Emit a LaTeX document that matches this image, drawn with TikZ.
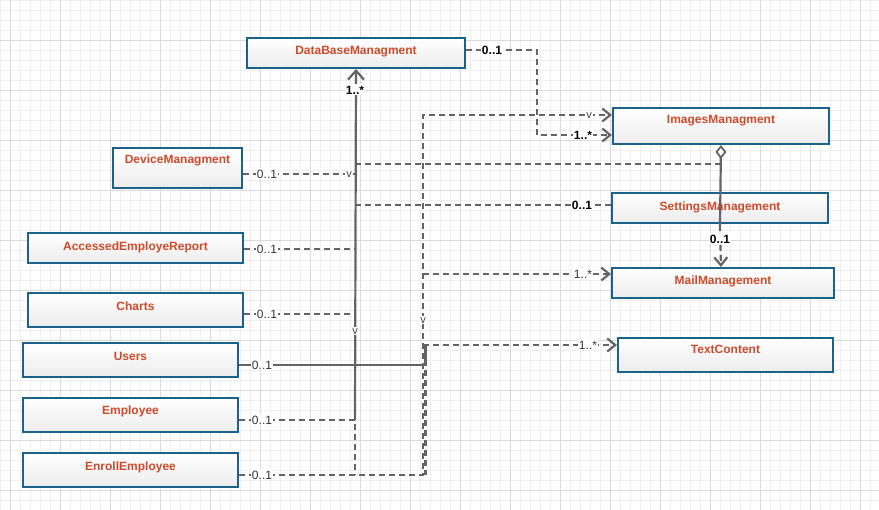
\documentclass[tikz,border=0pt]{standalone}
\usepackage{fontspec}
\setmainfont{Liberation Sans}
\usetikzlibrary{arrows.meta}
\definecolor{titlec}{RGB}{207,74,42}
\definecolor{boxc}{RGB}{27,98,138}
\definecolor{linec}{RGB}{100,100,100}
\definecolor{gridmin}{RGB}{239,239,239}
\definecolor{gridmaj}{RGB}{218,218,218}
\definecolor{boxfill}{RGB}{236,236,236}
\tikzset{
  box/.style={rectangle,draw=boxc,line width=2pt,top color=white,bottom color=boxfill,anchor=north west,inner sep=0pt},
  title/.style={font=\bfseries\fontsize{12}{14}\selectfont,text=titlec,anchor=base,inner sep=0pt},
  conn/.style={draw=linec,line width=2.2pt},
  dl/.style={conn,dash pattern=on 6pt off 4pt},
  arrowend/.style={-{Straight Barb[length=8pt,width=13pt]}},
  lbl/.style={fill=white,inner sep=1.2pt,text height=8.6pt,text depth=0pt,font=\fontsize{12}{14}\selectfont,text=black!80},
  blbl/.style={lbl,font=\bfseries\fontsize{12}{14}\selectfont,text=black},
  vlbl/.style={fill=white,inner sep=1pt,text height=6.3pt,text depth=0pt,font=\fontsize{11}{13}\selectfont,text=black!75},
}
\begin{document}
\begin{tikzpicture}[x=1pt,y=-1pt]
\useasboundingbox (0,0) rectangle (879,510);
\fill[white] (0,0) rectangle (879,510);
% grid
\foreach \i in {0,10,...,870} \draw[gridmin,line width=1pt] (\i+0.5,0) -- (\i+0.5,510);
\foreach \j in {0,10,...,500} \draw[gridmin,line width=1pt] (0,\j+0.5) -- (879,\j+0.5);
\foreach \i in {10,60,...,860} \draw[gridmaj,line width=1pt] (\i+0.5,0) -- (\i+0.5,510);
\foreach \j in {40,90,...,490} \draw[gridmaj,line width=1pt] (0,\j+0.5) -- (879,\j+0.5);

% boxes
\node[box,minimum width=218pt,minimum height=30pt] (db) at (246,37) {};
\node[title] (dbt) at ([yshift=-17.5pt]db.north) {DataBaseManagment};
\node[box,minimum width=216pt,minimum height=36pt] (img) at (612,107) {};
\node[title] (imgt) at ([yshift=-16.5pt]img.north) {ImagesManagment};
\node[box,minimum width=216pt,minimum height=30pt] (set) at (611,192) {};
\node[title] (sett) at ([yshift=-18.5pt]set.north) {SettingsManagement};
\node[box,minimum width=222pt,minimum height=30pt] (mail) at (611,267) {};
\node[title] (mailt) at ([yshift=-17.5pt]mail.north) {MailManagement};
\node[box,minimum width=215pt,minimum height=34pt] (txt) at (617,337) {};
\node[title] (txtt) at ([yshift=-16.5pt]txt.north) {TextContent};
\node[box,minimum width=129pt,minimum height=40pt] (dev) at (112,147) {};
\node[title] (devt) at ([yshift=-16.5pt]dev.north) {DeviceManagment};
\node[box,minimum width=215pt,minimum height=30pt] (acc) at (27,232) {};
\node[title] (acct) at ([yshift=-18.5pt]acc.north) {AccessedEmployeReport};
\node[box,minimum width=215pt,minimum height=34pt] (cha) at (27,292) {};
\node[title] (chat) at ([yshift=-18.5pt]cha.north) {Charts};
\node[box,minimum width=215pt,minimum height=34pt] (usr) at (22,342) {};
\node[title] (usrt) at ([yshift=-18.5pt]usr.north) {Users};
\node[box,minimum width=215pt,minimum height=34pt] (emp) at (22,397) {};
\node[title] (empt) at ([yshift=-17.5pt]emp.north) {Employee};
\node[box,minimum width=215pt,minimum height=34pt] (enr) at (22,452) {};
\node[title] (enrt) at ([yshift=-18.5pt]enr.north) {EnrollEmployee};

% junction coordinates
\coordinate (a1) at (537,50);
\coordinate (a2) at (537,135);
\coordinate (b1) at (423,115);
\coordinate (b2) at (423,475);
\coordinate (b3) at (423,274);
\coordinate (b4) at (423,345);
\coordinate (b5) at (425.5,365);
\coordinate (b6) at (425.5,345);
\coordinate (b7) at (425.5,475);
\coordinate (c1) at (355,420);
\coordinate (c2) at (355,475);
\coordinate (c3) at (355,174);
\coordinate (c4) at (355,164);
\coordinate (c5) at (720,164);
\coordinate (c6) at (355,205);
\coordinate (c7) at (355,249);
\coordinate (c8) at (355,314);
\coordinate (d1) at (720,225);

% connectors
\draw[dl,arrowend] (db.east |- a1) -- (a1) -- (a2) -- (img.west |- a2);
\draw[dl,arrowend] (enr.east |- b2) -- (b2) -- (b1) -- (img.west |- b1);
\draw[dl,arrowend] (b3) -- (mail.west |- b3);
\draw[dl,arrowend] (b4) -- (txt.west |- b4);
\draw[conn] (usr.east |- b5) -- (b5) -- (b6);
\draw[dl,dash phase=5pt] (b5) -- (b7);
\draw[conn,{Straight Barb[length=9pt,width=16pt]}-] (db.south) -- (c1);
\draw[dl] (emp.east |- c1) -- (c1) -- (c2);
\draw[dl] (dev.east |- c3) -- (c3);
\draw[dl] (c4) -- (c5);
\draw[dl] (c6) -- (set.west |- c6);
\draw[dl] (acc.east |- c7) -- (c7);
\draw[dl] (cha.east |- c8) -- (c8);
\draw[conn,{Diamond[fill=white,length=14pt,width=11pt,line width=1.8pt]}-] (img.south) -- (d1);
\draw[dl,arrowend] (d1) -- (img.south |- mail.north);

% labels
\node[blbl] (l1) at (492,50) {0..1};
\node[blbl] (l2) at (355,90) {1..*};
\node[vlbl] (l3) at (589,115) {v};
\node[blbl] (l4) at (583,135) {1..*};
\node[lbl] (l5) at (267,174) {0..1};
\node[vlbl] (l6) at (349,174) {v};
\node[blbl] (l7) at (582,205) {0..1};
\node[blbl] (l8) at (720,239) {0..1};
\node[lbl] (l9) at (267,249) {0..1};
\node[lbl] (l10) at (267,314) {0..1};
\node[lbl] (l11) at (583,274) {1..*};
\node[lbl] (l12) at (588,345) {1..*};
\node[vlbl] (l13) at (355,331) {v};
\node[vlbl] (l14) at (423,320) {v};
\node[lbl] (l15) at (262,365) {0..1};
\node[lbl] (l16) at (262,420) {0..1};
\node[lbl] (l17) at (262,475) {0..1};
\end{tikzpicture}
\end{document}
